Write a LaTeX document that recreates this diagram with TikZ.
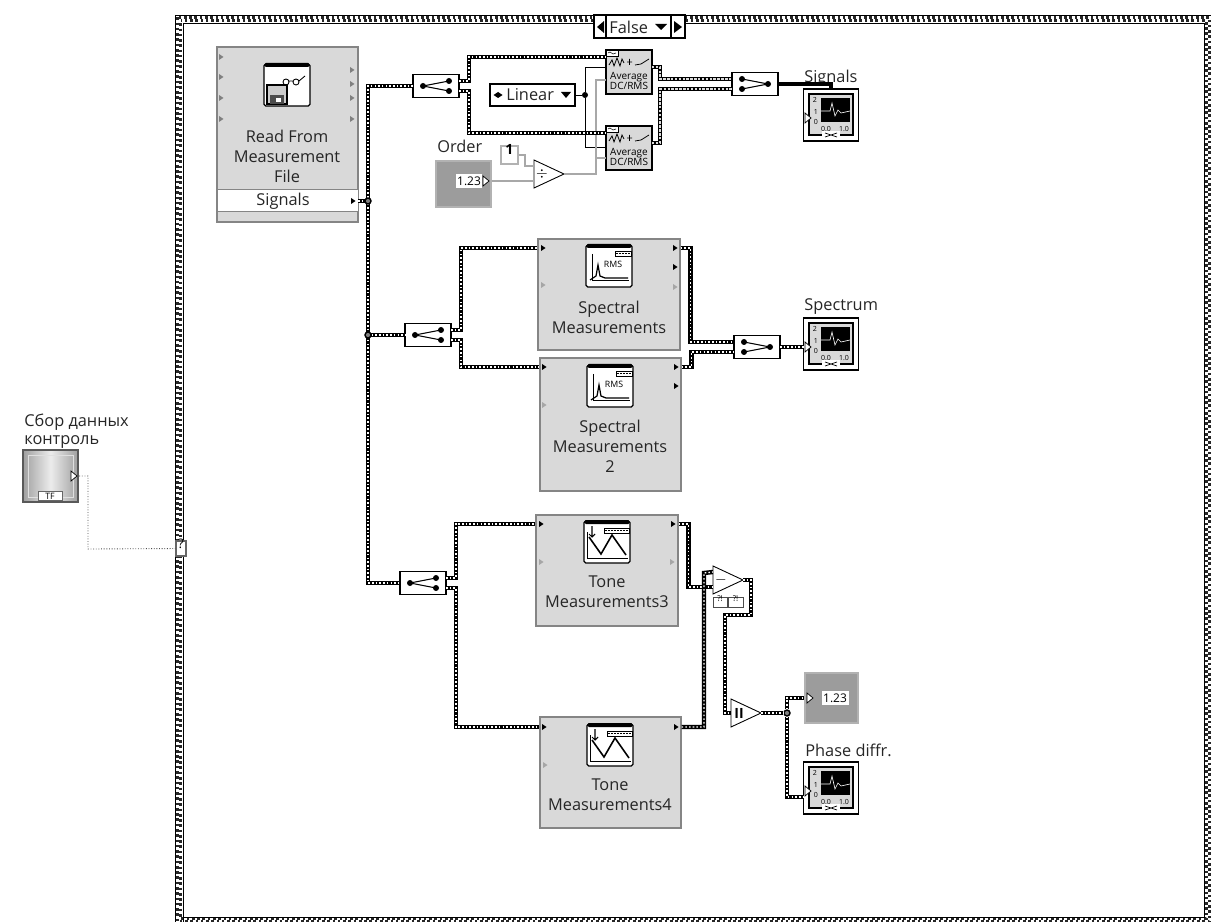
\documentclass[tikz,border=0pt]{standalone}
\usepackage{fontspec}
\setmainfont{Open Sans}
\usetikzlibrary{fit}
\definecolor{BlockGray}{HTML}{D9D9D9}
\definecolor{BlockEdge}{HTML}{858585}
\definecolor{CtlGray}{HTML}{9C9C9C}
\definecolor{WireGray}{HTML}{A8A8A8}
\newcommand{\px}{0.02cm}
\tikzset{
    wire/.style={draw=black, line width=2.5pt, line join=miter, postaction={draw=white, line width=0.75pt, dash pattern=on 0.9pt off 1.2pt}},
    palewire/.style={draw=black, line width=2.4pt, postaction={draw=WireGray!40, line width=1.2pt, dash pattern=on 1.4pt off 0.8pt}},
    thinwire/.style={draw=black, line width=0.55pt},
    greywire/.style={draw=WireGray, line width=0.9pt},
    dotwire/.style={draw=black!70, line width=0.5pt, densely dotted},
    caseline/.style={draw=black!85, line width=1.7pt, dash pattern=on 1.5pt off 1.5pt},
    viblock/.style={draw=BlockEdge, line width=0.7pt, fill=BlockGray, inner sep=0pt},
    whitebox/.style={draw=black, line width=0.6pt, fill=white, inner sep=0pt},
    errbox/.style={draw=black!70, line width=0.4pt, fill=white, inner sep=0pt, font=\fontsize{4.5}{5}\selectfont},
    ctlbox/.style={draw=gray!60, line width=1pt, fill=CtlGray, inner sep=0pt},
    vitext/.style={align=center, font=\fontsize{9.3}{11.4}\selectfont, text=black!85},
    lbl/.style={anchor=west, inner sep=0pt, font=\fontsize{9.3}{11.4}\selectfont, text=black!85},
    tinytext/.style={inner sep=0pt, font=\fontsize{4}{4.6}\selectfont},
    junc/.style={circle, draw=black, line width=0.8pt, fill=gray, minimum size=6*\px, inner sep=0pt},
    % ---------- small arrow of a terminal ----------
    pics/arrowtick/.style={code={\fill (-2,-3) -- (2.5,0) -- (-2,3) -- cycle;}},
    pics/opentick/.style={code={\draw[fill=white, line width=0.4pt] (-3,-5) -- (3,0) -- (-3,5) -- cycle;}},
    % ---------- bundle and unbundle ----------
    pics/splitbox/.style={code={
        \node[whitebox, minimum width=46*\px, minimum height=23*\px] (box) {};
        \coordinate (in) at (-23,0);
        \coordinate (hi) at (23,-5);
        \coordinate (lo) at (23,5);
        \draw[line width=0.6pt] (-13,0) -- (13,-5) (-13,0) -- (13,5);
        \fill (-13,0) circle (3) (13,-5) circle (3) (13,5) circle (3);
    }},
    pics/mergebox/.style={code={
        \node[whitebox, minimum width=46*\px, minimum height=23*\px] (box) {};
        \coordinate (hi) at (-23,-5);
        \coordinate (lo) at (-23,5);
        \coordinate (out) at (23,0);
        \draw[line width=0.6pt] (13,0) -- (-13,-5) (13,0) -- (-13,5);
        \fill (13,0) circle (3) (-13,-5) circle (3) (-13,5) circle (3);
    }},
    % ---------- Average DC/RMS ----------
    pics/avgblock/.style={code={
        \node[draw=black, line width=0.6pt, fill=BlockGray, inner sep=0pt, minimum width=46*\px, minimum height=44*\px] (box) {};
        \coordinate (in) at (-23,-15);
        \coordinate (out) at (23,-5);
        \draw[fill=white, line width=0.4pt] (-23,-22) rectangle (-11,-16);
        \draw[line width=0.3pt] (-21,-19) -- (-19,-20) -- (-16,-18) -- (-13,-19);
        \draw[line width=0.45pt] (-20,-7) -- (-17,-12) -- (-15,-6) -- (-12,-14) -- (-9,-6) -- (-7,-13) -- (-5,-9);
        \draw[line width=0.45pt] (-2,-10) -- (3,-10) (0.5,-13) -- (0.5,-7) (6,-7) -- (12,-8) -- (20,-13);
        \node[tinytext, align=center, font=\fontsize{5.7}{6.2}\selectfont] at (0,9) {Average\\DC/RMS};
    }},
    % ---------- front panel graph terminal ----------
    pics/graphicon/.style={code={
        \node[whitebox, minimum width=55*\px, minimum height=52*\px] (box) {};
        \draw[line width=0.7pt, fill=gray!30] (-22,-21) rectangle (22,20);
        \fill (-10,-17) rectangle (19,7);
        \draw[white, line width=0.35pt] (-10,-4) -- (-1,-4) -- (1,-12) -- (4,1) -- (7,-5) -- (10,-2) -- (19,-4);
        \node[tinytext] at (-16,-15) {2};
        \node[tinytext] at (-15,-3) {1};
        \node[tinytext] at (-15,7) {0};
        \node[tinytext] at (-5,14) {0.0};
        \node[tinytext] at (13,14) {1.0};
        \fill[white] (-9,16) rectangle (9,24);
        \draw[line width=0.4pt] (-6,18) -- (6,22) (-6,22) -- (6,18);
        \pic at (-23,3) {opentick};
        \coordinate (in) at (-27,3);
    }},
    % ---------- block glyphs, origin at the centre ----------
    pics/iconframe/.style={code={
        \draw[fill=white, line width=0.7pt, rounded corners=1pt] (-23,-21) rectangle (23,21);
        \fill[rounded corners=1pt] (-23,-22) rectangle (23,-18);
    }},
    pics/rmsicon/.style={code={
        \pic {iconframe};
        \draw[line width=0.5pt] (6,-15) rectangle (22,-10);
        \draw[line width=0.9pt, dash pattern=on 1pt off 0.7pt] (7,-12.5) -- (21,-12.5);
        \draw[line width=0.4pt] (-17,-12) -- (-17,14) -- (20,14);
        \draw[line width=0.7pt] (-19,14) -- (-13,10) -- (-11,-1) -- (-9,10) -- (-4,12) -- (19,12);
        \node[tinytext, font=\fontsize{5}{6}\selectfont] at (4,-2) {RMS};
    }},
    pics/toneicon/.style={code={
        \pic {iconframe};
        \draw[line width=0.5pt] (-3,-14) rectangle (22,-9);
        \draw[line width=0.9pt, dash pattern=on 1pt off 0.7pt] (-2,-11.5) -- (21,-11.5);
        \draw[line width=0.4pt] (-20,-10) -- (-20,16) -- (21,16);
        \draw[line width=0.9pt] (-18,-5) -- (-6,12) -- (5,-7) -- (19,13);
        \draw[line width=0.6pt] (-15,-16) -- (-15,-5) (-18,-8) -- (-15,-5) -- (-12,-8);
    }},
    pics/readicon/.style={code={
        \pic {iconframe};
        \draw[line width=0.5pt] (-1,-3) circle (3) (9,-3) circle (3) (2,-4) -- (6,-4) (12,-4) -- (18,-9);
        \draw[fill=gray!40, line width=0.6pt] (-20,0) rectangle (0,19);
        \fill[black!70] (-17,10) rectangle (-3,19);
        \fill[white] (-11,13) rectangle (-6,17);
    }},
    % ---------- triangle of a primitive ----------
    pics/primtri/.style={code={
        \draw[fill=white, line width=0.5pt] (-15,-14) -- (15,0) -- (-15,14) -- cycle;
        \coordinate (hi) at (-15,-8);
        \coordinate (lo) at (-15,7);
        \coordinate (in) at (-15,0);
        \coordinate (out) at (15,0);
        \node[inner sep=0pt, font=\fontsize{8}{9}\selectfont] at (-7,0) {#1};
    }},
}

\begin{document}
\begin{tikzpicture}[x=0.02cm, y=-0.02cm]
    \useasboundingbox (0,0) rectangle (1211,922);

    % ========== Case structure wall ==========
    \draw[caseline] (177.3,17.3) rectangle (1209.5,921.5);
    \draw[caseline, dash phase=1.5pt] (180.6,20.6) rectangle (1206,918.5);
    \draw[draw=black, line width=0.5pt] (175,15) -- (1211,15) (175,15) -- (175,922);
    \draw[draw=black, line width=0.5pt] (183,922) -- (183,23) -- (1204,23) -- (1204,917) -- (183,917);

    % Selector
    \node[whitebox, fit={(594,15) (685,38)}, font=\fontsize{9.3}{11}\selectfont] (selbox) {};
    \node[lbl] (seltxt) at (609,27) {False};
    \draw[line width=0.6pt] (606,15) -- (606,38) (671,15) -- (671,38);
    \fill (604,21) -- (604,33) -- (597,27) -- cycle;
    \fill (674,21) -- (674,33) -- (682,27) -- cycle;
    \fill (655,24) -- (667,24) -- (661,30) -- cycle;

    % ========== Read From Measurement File ==========
    \node[viblock, fit={(217,47) (358,222)}] (readfile) {};
    \node[draw=BlockEdge, fill=white, line width=0.5pt, inner sep=0pt, fit={(217,189) (358,211)}] (readrow) {};
    \node[vitext] (readtxt) at (287,156) {Read From\\Measurement\\File};
    \node[vitext] (readsig) at (283,201) {Signals};
    \pic at (287,85) {readicon};
    \pic[gray] at (221,57) {arrowtick};
    \pic[gray] at (221,77) {arrowtick};
    \pic[gray] at (221,98) {arrowtick};
    \pic[gray] at (221,119) {arrowtick};
    \pic[gray] at (352,70) {arrowtick};
    \pic[gray] at (352,84) {arrowtick};
    \pic[gray] at (352,98) {arrowtick};
    \pic[gray] at (352,119) {arrowtick};
    \pic at (353,201) {arrowtick};
    \coordinate (readout) at (358,201);

    % ========== Signals branch ==========
    \pic (sA) at (436,86) {splitbox};
    \pic (avgA) at (629,72) {avgblock};
    \pic (avgB) at (629,148) {avgblock};
    \pic (mA) at (755,84) {mergebox};
    \pic (gA) at (831,115) {graphicon};
    \node[lbl] (gAtxt) at (804,78) {Signals};

    % Linear selector
    \node[draw=black, line width=1.2pt, fill=white, inner sep=0pt, fit={(490,84) (575,106)}] (enumbox) {};
    \node[lbl] (enumtxt) at (506,95) {Linear};
    \pic at (500,95) {arrowtick};
    \pic[rotate=180] at (496,95) {arrowtick};
    \fill (561,92) -- (571,92) -- (566,98) -- cycle;
    \node[circle, fill=black, inner sep=0pt, minimum size=6*\px] (enumjn) at (585,95) {};
    \coordinate (avgAmode) at (606,67);
    \coordinate (avgBmode) at (606,147);
    \coordinate (avgAord) at (606,80);
    \coordinate (avgBord) at (606,158);

    % Order
    \node[ctlbox, fit={(436,161) (491,207)}] (order) {};
    \node[fill=white, inner sep=0pt, minimum width=26*\px, minimum height=14*\px, font=\fontsize{6.8}{8}\selectfont] (ordnum) at (469,181) {1.23};
    \pic at (486,181) {opentick};
    \node[lbl] (ordtxt) at (437,146) {Order};
    \node[draw=gray!60, fill=white, line width=0.8pt, inner sep=0pt, fit={(501,146) (518,164)}, font=\fontsize{8}{9}\bfseries\selectfont] (one) {1};
    \pic (dv) at (549,174) {primtri={$\div$}};

    \draw[thinwire] (enumbox) -- (enumjn);
    \draw[thinwire] (avgAmode) -| (enumjn);
    \draw[thinwire] (avgBmode) -| (enumjn);
    \draw[greywire] (one) -| (525,166) -- (dvhi);
    \draw[greywire] (order.east |- ordnum) -- (dvlo);
    \draw[greywire] (dvout) -| (596,158) -- (avgBord);
    \draw[greywire] (596,158) |- (avgAord);

    \draw[wire] (sAhi) -- ++(10,0) |- (avgAin);
    \draw[wire] (sAlo) -- ++(10,0) |- (avgBin);
    \draw[palewire] (avgAout) -| (660,79) -- (mAhi);
    \draw[palewire] (avgBout) -| (660,89) -- (mAlo);
    \draw[thinwire, line width=1.8pt] (mAout) -| (gAbox.north);

    % ========== Spectrum branch ==========
    \pic (sB) at (428,335) {splitbox};
    \node[viblock, fit={(538,239) (680,350)}] (specA) {};
    \node[viblock, fit={(540,358) (681,491)}] (specB) {};
    \pic at (609,266) {rmsicon};
    \pic at (610,386) {rmsicon};
    \node[vitext] (specAtxt) at (609,317) {Spectral\\Measurements};
    \node[vitext] (specBtxt) at (610,446) {Spectral\\Measurements\\2};
    \pic at (543,248) {arrowtick};
    \pic at (675,248) {arrowtick};
    \pic at (675,267) {arrowtick};
    \pic[gray!70] at (543,285) {arrowtick};
    \pic[gray!70] at (675,287) {arrowtick};
    \pic at (544,367) {arrowtick};
    \pic at (676,367) {arrowtick};
    \pic at (676,386) {arrowtick};
    \pic[gray!70] at (544,405) {arrowtick};
    \pic (mB) at (757,347) {mergebox};
    \pic (gB) at (831,344) {graphicon};
    \node[lbl] (gBtxt) at (804,307) {Spectrum};

    \draw[wire] (sBhi) -- ++(10,0) |- (specA.west |- 0,248);
    \draw[wire] (sBlo) -- ++(10,0) |- (specB.west |- 0,367);
    \draw[wire] (specA.east |- 0,248) -- ++(10,0) |- (mBhi);
    \draw[wire] (specB.east |- 0,367) -- ++(10,0) |- (mBlo);
    \draw[wire] (mBout) -- (gBin);

    % ========== Tone branch ==========
    \pic (sC) at (423,583) {splitbox};
    \node[viblock, fit={(536,515) (678,626)}] (toneA) {};
    \node[viblock, fit={(540,717) (681,828)}] (toneB) {};
    \pic at (607,542) {toneicon};
    \pic at (610,745) {toneicon};
    \node[vitext] (toneAtxt) at (607,592) {Tone\\Measurements3};
    \node[vitext] (toneBtxt) at (610,795) {Tone\\Measurements4};
    \pic at (541,524) {arrowtick};
    \pic at (673,524) {arrowtick};
    \pic[gray!70] at (541,562) {arrowtick};
    \pic[gray!70] at (672,562) {arrowtick};
    \pic at (544,727) {arrowtick};
    \pic at (676,727) {arrowtick};
    \pic[gray!70] at (545,765) {arrowtick};

    \pic (sub) at (728,580) {primtri={$-$}};
    \node[errbox, fit={(713,597) (727,607)}] (errA) {?!};
    \node[errbox, fit={(728,597) (743,607)}] (errB) {?!};
    \pic (mag) at (746,713) {primtri={\textbf{II}}};
    \node[junc] (magjn) at (787,713) {};

    % Numeric indicator
    \node[ctlbox, fit={(805,673) (858,723)}] (phase) {};
    \node[fill=white, inner sep=0pt, minimum width=27*\px, minimum height=14*\px, font=\fontsize{6.8}{8}\selectfont] (phnum) at (835,698) {1.23};
    \pic at (810,698) {opentick};
    \pic (gC) at (831,788) {graphicon};
    \node[lbl] (gCtxt) at (805,750) {Phase diffr.};

    \draw[wire] (sChi) -- ++(10,0) |- (toneA.west |- 0,524);
    \draw[wire] (sClo) -- ++(10,0) |- (toneB.west |- 0,727);
    \draw[wire] (toneA.east |- 0,524) -- ++(10,0) |- (sublo);
    \draw[wire] (toneB.east |- 0,727) -| (704,573) -- (subhi);
    \draw[wire] (subout) -| (751,615) -| (725,713) -- (magin);
    \draw[wire] (magout) -- (magjn);
    \draw[wire] (magjn) |- (phase.west |- phnum);
    \draw[wire] (magjn) |- (gCbox.west |- 0,797);

    % ========== Main bus ==========
    \coordinate (busS) at (368,201);
    \coordinate (busM) at (368,335);
    \draw[wire] (sAin) -| (368,583) -- (sCin);
    \draw[wire] (busM) -- (sBin);
    \draw[wire] (readout) -- (busS);
    \node[junc] (junS) at (busS) {};
    \node[junc] (junM) at (busM) {};

    % ========== Left control ==========
    \node[lbl] (ctltxt) at (24,431.5) {\begin{tabular}{@{}l@{}}Сбор данных\\[-1.5pt]контроль\end{tabular}};
    \node[draw=black!65, line width=1.4pt, inner sep=0pt, left color=gray!75, right color=gray!75, middle color=gray!15, fit={(23,450) (78,502)}] (ctl) {};
    \draw[gray!25, line width=0.5pt] (28,455) rectangle (73,497);
    \node[draw=black!60, fill=white, line width=0.4pt, inner sep=0pt, minimum width=24*\px, minimum height=9*\px, font=\fontsize{5}{6}\selectfont] (ctltf) at (50,496) {TF};
    \pic at (74,476) {opentick};
    \node[whitebox, draw=black!60, fit={(176,541) (186,556)}, font=\fontsize{7.5}{8}\selectfont] (tunnel) {?};
    \draw[dotwire] (ctl.east |- 0,476) -| (88,549) -- (tunnel);

\end{tikzpicture}
\end{document}
